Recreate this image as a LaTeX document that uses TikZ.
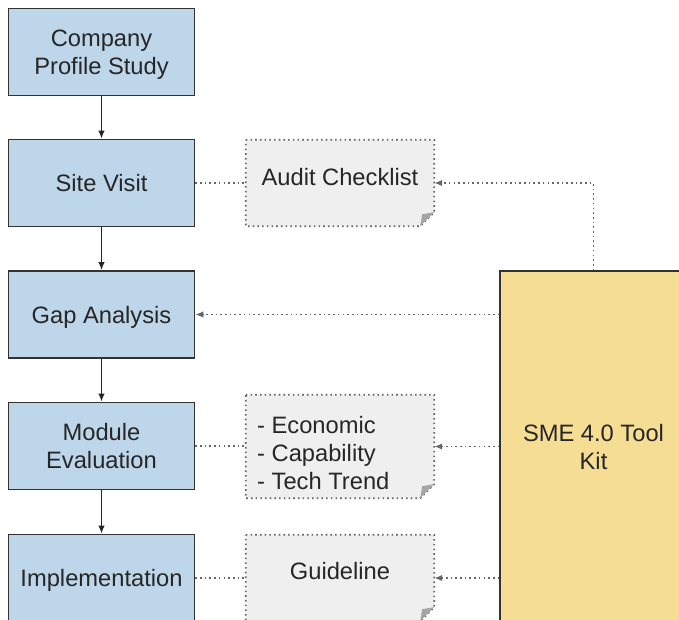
\documentclass[tikz,border=0pt]{standalone}
\usepackage{fontspec}
\setmainfont{Liberation Sans}
\usetikzlibrary{arrows.meta}
\definecolor{stepblue}{RGB}{189,214,233}
\definecolor{kityellow}{RGB}{245,221,148}
\definecolor{notegray}{RGB}{239,239,239}
\definecolor{edgegray}{RGB}{50,50,50}
\tikzset{
	stepbox/.style={draw=edgegray,line width=1.6pt,fill=stepblue,minimum width=186pt,minimum height=87pt,align=center,inner sep=0pt,text depth=0pt},
	notebox/.style={minimum width=188pt,minimum height=86pt,inner sep=0pt},
	notelink/.style={line width=1.7pt,dash pattern=on 1.6pt off 3.1pt,draw=black!60},
	tiplink/.style={notelink,-{Latex[length=8pt,width=6.5pt]}},
	flow/.style={line width=1.8pt,draw=black!85,-{Latex[length=8pt,width=6.5pt]}},
}
\begin{document}
\begin{tikzpicture}[x=1pt,y=-1pt,font=\fontsize{23.7}{28}\selectfont,text=black!85]
	\useasboundingbox (0,0) rectangle (679,619);
	\clip (0,0) rectangle (679,619);
	% process steps
	\node[stepbox] (profile) at (101.5,52) {Company\\Profile Study};
	\node[stepbox] (visit) at (101.5,183) {Site Visit};
	\node[stepbox] (gap) at (101.5,314.5) {Gap Analysis};
	\node[stepbox] (module) at (101.5,446) {Module\\Evaluation};
	\node[stepbox] (impl) at (101.5,578) {Implementation};
	\node[stepbox,fill=kityellow,minimum width=187pt,minimum height=352pt] (kit) at (593.5,447) {SME 4.0 Tool\\Kit};
	% notes
	\node[notebox] (audit) at (340,183) {};
	\node[notebox,minimum height=103pt] (econ) at (340,446.5) {};
	\node[notebox] (guide) at (340,578) {};
	\foreach \n in {audit,econ,guide}{
		\draw[notelink,fill=notegray] (\n.north west) -- (\n.north east) -- ([yshift=14pt]\n.south east) -- ([xshift=-14pt]\n.south east) -- (\n.south west) -- cycle;
		\fill[black!35] ([yshift=14pt]\n.south east) -- ([xshift=-14pt]\n.south east) -- ([xshift=-12pt,yshift=12pt]\n.south east) -- cycle;
	}
	\node (auditTxt) at (340,177) {Audit Checklist};
	\node[align=left,anchor=west,inner sep=0pt] (econTxt) at (257,453) {- Economic\\- Capability\\- Tech Trend};
	\node (guideTxt) at (340,571) {Guideline};
	% connectors
	\draw[flow] (profile) -- (visit);
	\draw[flow] (visit) -- (gap);
	\draw[flow] (gap) -- (module);
	\draw[flow] (module) -- (impl);
	\draw[notelink] (visit) -- (audit);
	\draw[notelink] (module) -- (module -| econ.west);
	\draw[notelink] (impl) -- (guide);
	\draw[tiplink] (kit.north) |- (audit.east);
	\draw[tiplink] (kit.west |- gap) -- (gap);
	\draw[tiplink] (kit.west |- econ) -- (econ);
	\draw[tiplink] (kit.west |- guide) -- (guide);
\end{tikzpicture}
\end{document}
